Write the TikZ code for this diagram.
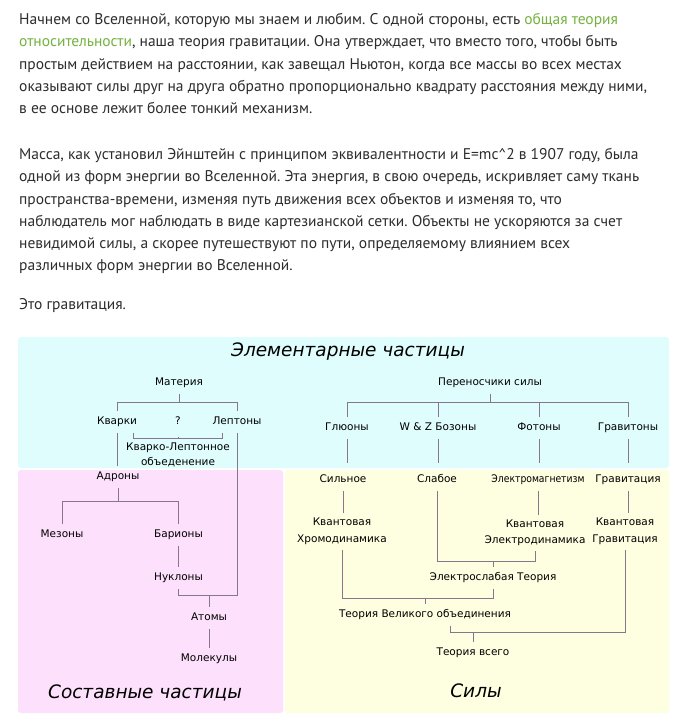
\documentclass[tikz,border=0pt]{standalone}
\usepackage{fontspec}
\setmainfont{PT Sans}
\newfontfamily\diagfont{DejaVu Sans}[ItalicFont={DejaVu Sans Oblique}]
\usetikzlibrary{positioning}
\definecolor{bodytext}{RGB}{45,45,45}
\definecolor{linkgreen}{RGB}{118,178,64}
\definecolor{panelcyan}{RGB}{224,253,253}
\definecolor{panelpink}{RGB}{253,224,251}
\definecolor{panelyellow}{RGB}{254,254,224}
\definecolor{treegray}{RGB}{135,118,140}
\frenchspacing

\begin{document}
\begin{tikzpicture}[
    x=1pt, y=-1pt,
    para/.style={anchor=north west, inner sep=0pt, align=left, text=bodytext, font=\fontsize{15.5}{22.3}\selectfont},
    item/.style={inner xsep=0pt, inner ysep=6pt, text height=8pt, text depth=2.5pt, font=\diagfont\fontsize{10.5}{15}\selectfont},
    twoline/.style={inner xsep=0pt, inner ysep=5pt, align=center, font=\diagfont\fontsize{10.5}{16.5}\selectfont},
    heading/.style={font=\diagfont\itshape\fontsize{18.5}{20}\selectfont},
    treeline/.style={draw=treegray, line width=0.9pt}
]
\useasboundingbox[fill=white] (0,0) rectangle (687,724);

% text above the chart
\node[para] (intro) at (19,13) {Начнем со Вселенной, которую мы знаем и любим. С одной стороны, есть \textcolor{linkgreen}{общая теория}\\
\textcolor{linkgreen}{относительности}, наша теория гравитации. Она утверждает, что вместо того, чтобы быть\\
простым действием на расстоянии, как завещал Ньютон, когда все массы во всех местах\\
оказывают силы друг на друга обратно пропорционально квадрату расстояния между ними,\\
в ее основе лежит более тонкий механизм.};
\node[para] (mass) at (19,148) {Масса, как установил Эйнштейн с принципом эквивалентности и E=mc\textasciicircum{}2 в 1907 году, была\\
одной из форм энергии во Вселенной. Эта энергия, в свою очередь, искривляет саму ткань\\
пространства-времени, изменяя путь движения всех объектов и изменяя то, что\\
наблюдатель мог наблюдать в виде картезианской сетки. Объекты не ускоряются за счет\\
невидимой силы, а скорее путешествуют по пути, определяемому влиянием всех\\
различных форм энергии во Вселенной.};
\node[para] (gravity text) at (19,298) {Это гравитация.};

% panels
\fill[panelcyan, rounded corners=3pt] (18,337) rectangle (669,468);
\fill[panelpink, rounded corners=3pt] (18,470) rectangle (283,713);
\fill[panelyellow, rounded corners=3pt] (285,470) rectangle (669,713);

% elementary particles
\node[heading] (elem title) at (348,352) {Элементарные частицы};
\node[item] (matter) at (179,383) {Материя};
\node[item] (quarks) at (117,422) {Кварки};
\node[item] (unknown) at (178,422) {?};
\node[item] (leptons) at (237,422) {Лептоны};
\node[twoline, font=\diagfont\fontsize{10.5}{15}\selectfont] (qlu) at (178,454.5) {Кварко-Лептонное\\объеденение};
\node[item] (carriers) at (490,383) {Переносчики силы};
\node[item] (gluons) at (347,428) {Глюоны};
\node[item] (wz) at (438,428) {W \& Z Бозоны};
\node[item] (photons) at (539,428) {Фотоны};
\node[item] (gravitons) at (628,428) {Гравитоны};

% composite particles
\node[item] (hadrons) at (118,477) {Адроны};
\node[item] (mesons) at (62,535) {Мезоны};
\node[item] (baryons) at (178.5,535) {Барионы};
\node[item] (nucleons) at (178.5,578) {Нуклоны};
\node[item] (atoms) at (209,618) {Атомы};
\node[item] (molecules) at (209,659) {Молекулы};
\node[heading] (comp title) at (145,693) {Составные частицы};

% forces
\node[item] (strong) at (343,480) {Сильное};
\node[item] (weak) at (437,480) {Слабое};
\node[item] (em) at (538,480) {\scalebox{0.88}[1]{Электромагнетизм}};
\node[item] (gravity) at (628,480) {Гравитация};
\node[twoline] (qcd) at (342,531.5) {Квантовая\\Хромодинамика};
\node[twoline] (qed) at (535,533) {Квантовая\\Электродинамика};
\node[twoline] (qg) at (625,531.5) {Квантовая\\Гравитация};
\node[item] (ew) at (493,578) {Электрослабая Теория};
\node[item] (gut) at (425,615) {Теория Великого объединения};
\node[item] (toe) at (473,653) {Теория всего};
\node[heading] (force title) at (476,691) {Силы};

% connectors
\draw[treeline] (quarks.north) -- ++(0,-8) coordinate (mj) -| (leptons.north) (matter.south) -- (matter.south |- mj);
\draw[treeline] ([xshift=-4pt]quarks.south east) -- ++(0,5) coordinate (qj) -| ([xshift=10pt]leptons.south west) (qlu.north) -- (qlu.north |- qj);
\draw[treeline] (quarks.south) -- (quarks.south |- hadrons.north);
\draw[treeline] (nucleons.south) -- ++(0,6) coordinate (nj) -| (leptons.south) (atoms.north) -- (atoms.north |- nj);
\draw[treeline] (mesons.north) -- ++(0,-22) coordinate (hj) -| (baryons.north) (hadrons.south) -- (hadrons.south |- hj);
\draw[treeline] (baryons) -- (nucleons);
\draw[treeline] (atoms) -- (molecules);
\draw[treeline] (gluons.north) -- ++(0,-14) coordinate (cj) -| (gravitons.north) (wz.north) -- (wz.north |- cj) (photons.north) -- (photons.north |- cj) (carriers.south) -- (carriers.south |- cj);
\foreach \a/\b in {gluons/strong, wz/weak, photons/em, gravitons/gravity}
    \draw[treeline, shorten >=6pt] (\a.south) -- (\a.south |- \b.north);
\foreach \a/\b in {strong/qcd, em/qed, gravity/qg}
    \draw[treeline] (\a.south) -- (\a.south |- \b.north);
\draw[treeline] (qed.south) -- ++(0,10) coordinate (ej) -| (weak.south) (ew.north) -- (ew.north |- ej);
\draw[treeline] (ew.south) -- ++(0,9) coordinate (gj) -| (qcd.south) (gut.north) -- (gut.north |- gj);
\draw[treeline] ([xshift=25pt]gut.south) -- ++(0,6) coordinate (tj) -| (qg.south) (toe.north) -- (toe.north |- tj);
\end{tikzpicture}
\end{document}
